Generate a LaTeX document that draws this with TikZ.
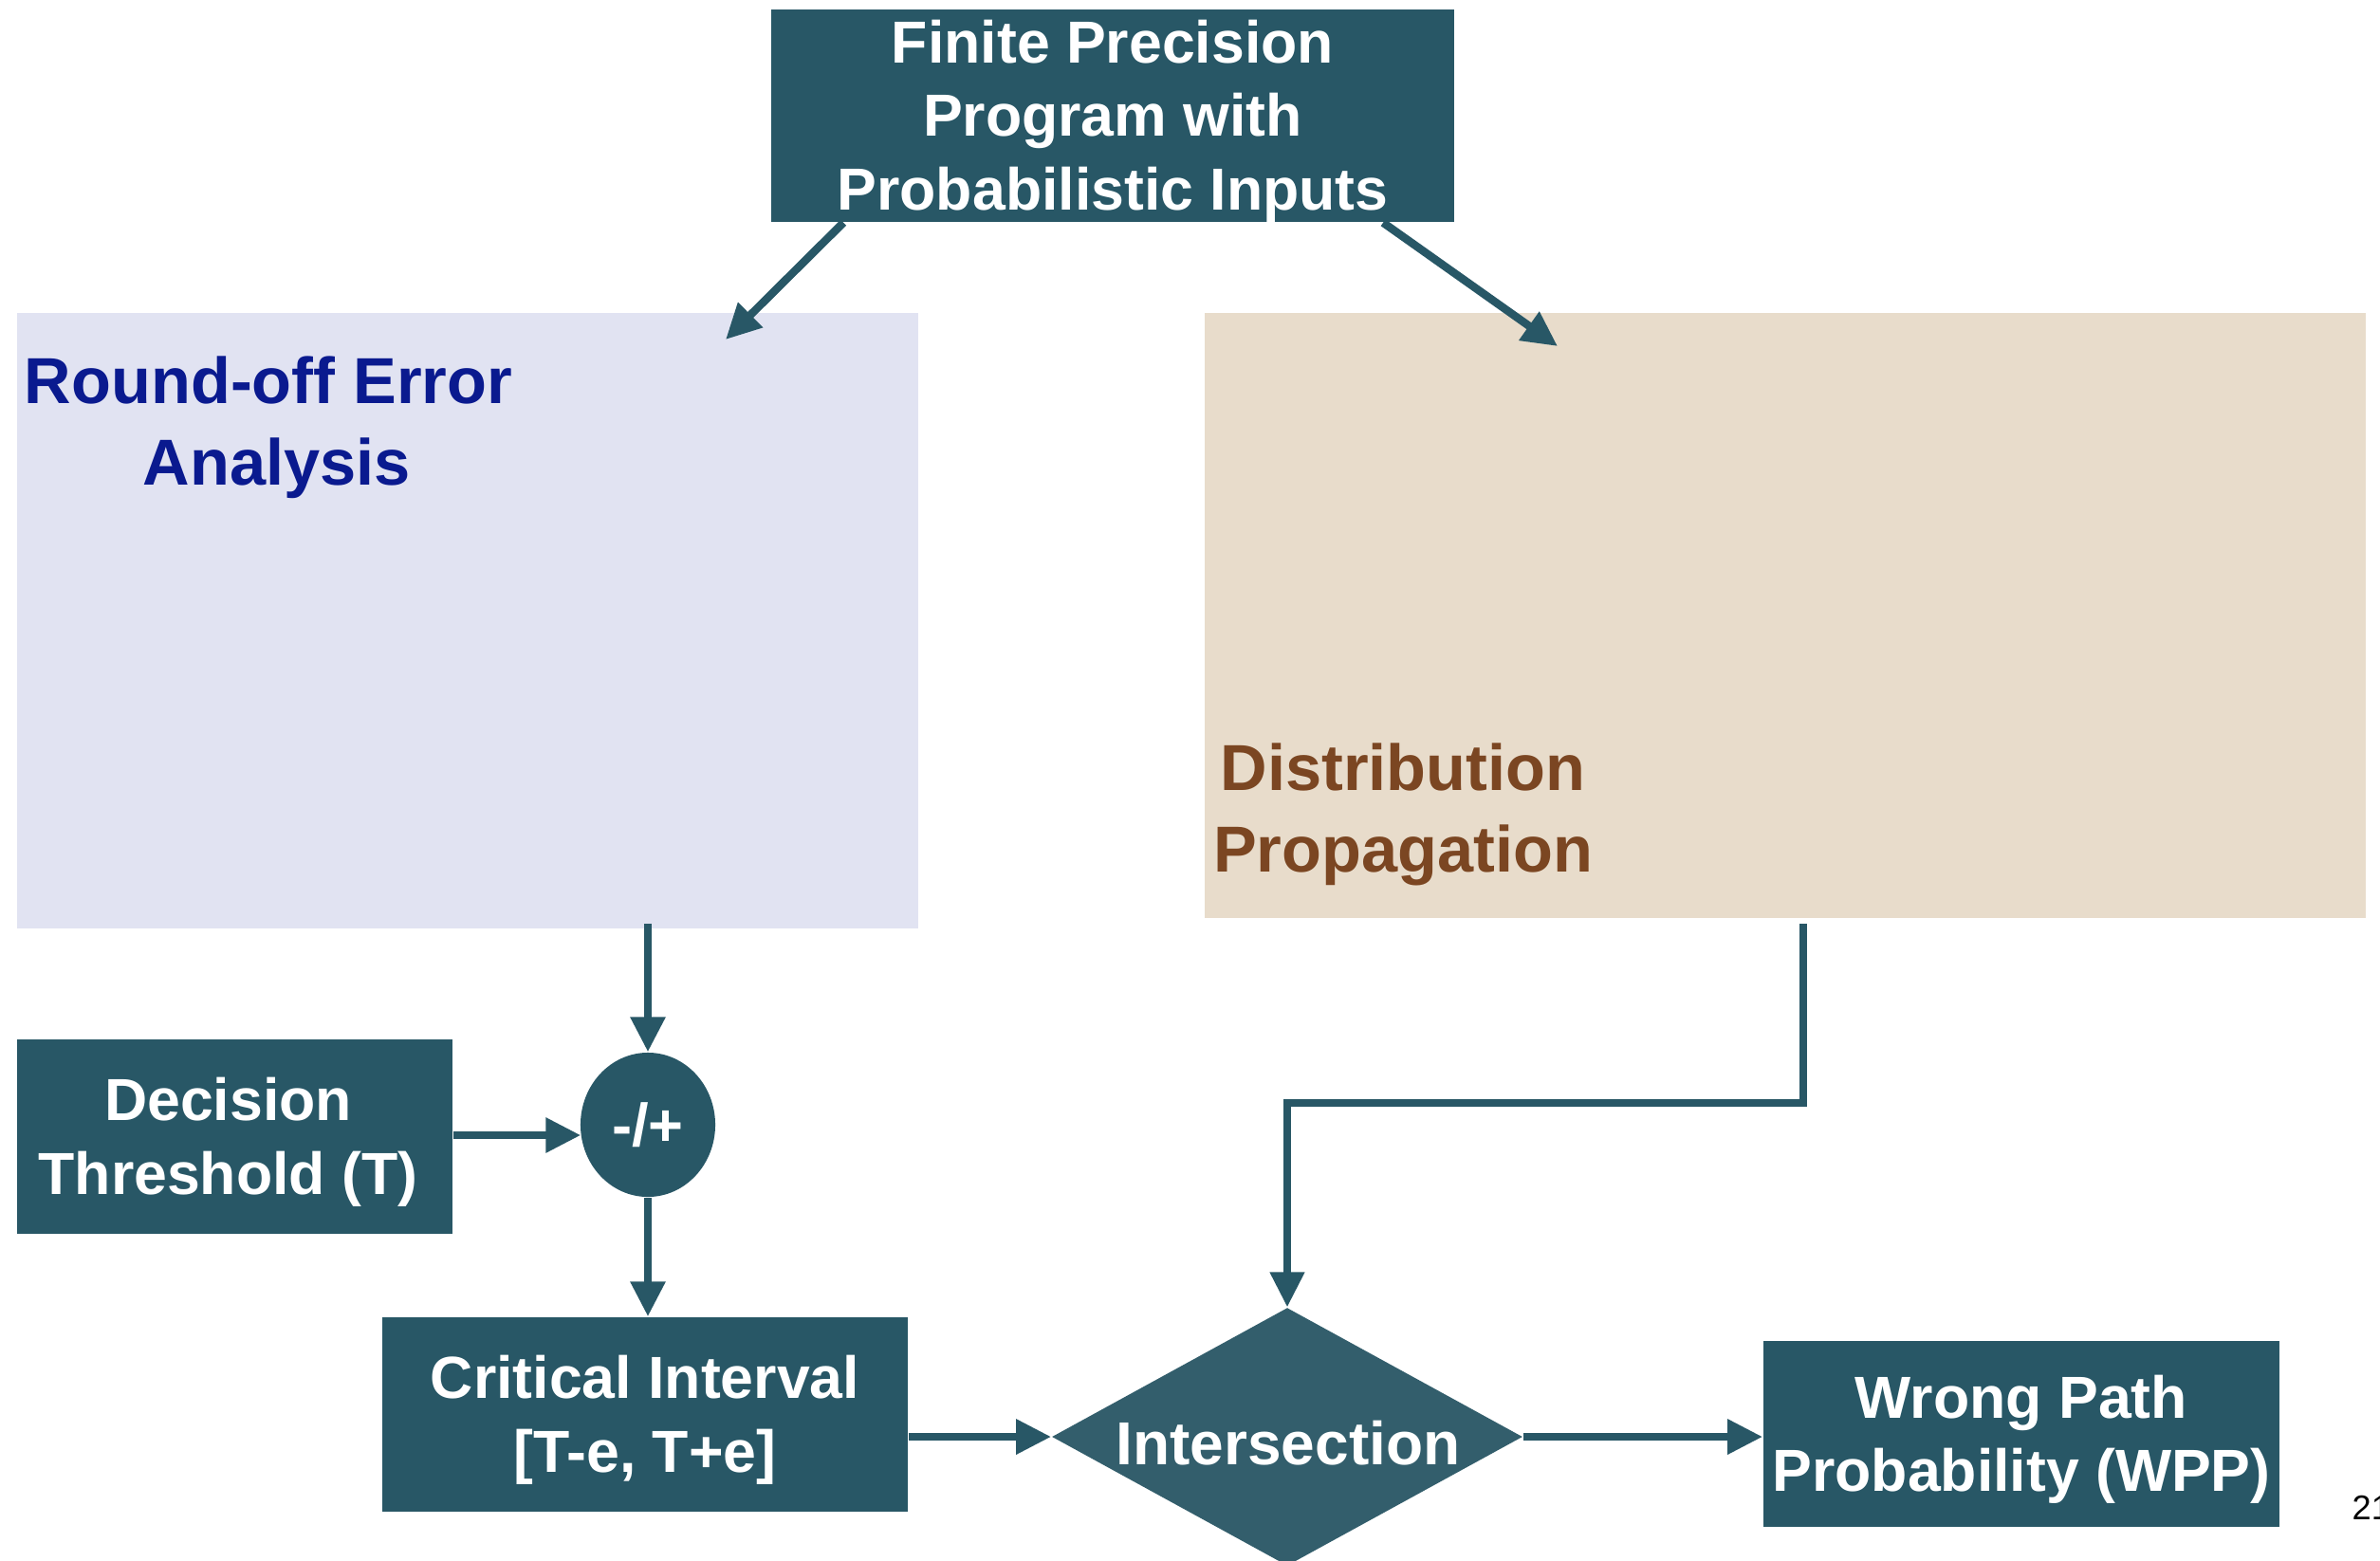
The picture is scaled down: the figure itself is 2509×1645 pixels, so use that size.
\documentclass[tikz,border=0pt]{standalone}
\usepackage{fontspec}
\setmainfont{Liberation Sans}
\usetikzlibrary{arrows.meta,shapes.geometric,calc}
\definecolor{boxteal}{RGB}{40,87,102}
\definecolor{diamteal}{RGB}{51,94,108}
\definecolor{lavregion}{RGB}{225,227,242}
\definecolor{beigeregion}{RGB}{232,220,203}
\definecolor{navytext}{RGB}{10,26,143}
\definecolor{browntext}{RGB}{123,70,34}
\tikzset{
  darkbox/.style={rectangle, fill=boxteal, inner sep=0pt},
  boxtext/.style={text=white, align=center, inner sep=0pt, yshift=-1.6pt,
    font=\bfseries\fontsize{17.8}{22}\selectfont},
  regionbox/.style={rectangle, inner sep=0pt},
  regiontitle/.style={align=center, inner sep=0pt, font=\bfseries\fontsize{19.5}{24.5}\selectfont},
  flow/.style={draw=boxteal, line width=2.4pt, -{Triangle[width=10pt,length=10.5pt]}},
}
\begin{document}
\begin{tikzpicture}[x=0.01cm, y=-0.01cm]
  \clip (0,0) rectangle (2509,1645);
  \fill[white] (0,0) rectangle (2509,1645);

  % analysis regions
  \node[regionbox, fill=lavregion, minimum width=9.50cm, minimum height=6.49cm] (lav) at (493,654.5) {};
  \node[regiontitle, text=navytext] (lavtitle) at (283,451) {Round-off Error\\\hspace*{5pt}Analysis};
  \node[regionbox, fill=beigeregion, minimum width=12.24cm, minimum height=6.38cm] (beige) at (1882,649) {};
  \node[regiontitle, text=browntext] (beigetitle) at (1479,859) {Distribution\\Propagation};

  % program and processing blocks
  \node[darkbox, minimum width=7.20cm, minimum height=2.24cm,
    label={[boxtext, name=progtext]center:{Finite Precision\\Program with\\Probabilistic Inputs}}]
    (prog) at (1173,122) {};
  \node[darkbox, minimum width=4.59cm, minimum height=2.05cm,
    label={[boxtext, name=dectext, xshift=-2pt]center:{Decision\\Threshold (T)}}]
    (dec) at (247.5,1198.5) {};
  \node[ellipse, fill=boxteal, text=white, minimum width=1.42cm, minimum height=1.52cm,
    inner sep=0pt, font=\bfseries\fontsize{18}{22}\selectfont] (circ) at (683,1186) {-/+};
  \node[darkbox, minimum width=5.54cm, minimum height=2.05cm,
    label={[boxtext, name=crittext]center:{Critical Interval\\{[}T-e, T+e{]}}}]
    (crit) at (680,1491.5) {};
  \node[diamond, fill=diamteal, aspect=1.82, inner sep=0pt,
    minimum width=4.96cm, minimum height=2.72cm] (diam) at (1357,1515) {};
  \node[text=white, inner sep=0pt, font=\bfseries\fontsize{18.2}{22}\selectfont] (diamlabel)
    at (1358,1522) {Intersection};
  \node[darkbox, minimum width=5.44cm, minimum height=1.96cm,
    label={[boxtext, name=wpptext]center:{Wrong Path\\Probability (WPP)}}]
    (wpp) at (2131,1512) {};

  % connector end points
  \coordinate (lavin) at (765,358);
  \coordinate (beigein) at (1642,365);
  \coordinate (bend) at (1901,1163);

  % connectors
  \draw[flow] ($(prog.south west)+(77,0)$) -- (lavin);
  \draw[flow] ($(prog.south west)+(646,0)$) -- (beigein);
  \draw[flow] ($(lav.south -| circ)+(0,-6)$) -- (circ.north);
  \draw[flow] (dec.east |- 0,1197) -- ($(circ.west)+(1,11)$);
  \draw[flow] (circ.south) -- (circ.south |- crit.north);
  \draw[flow] (crit.east |- diam.west) -- (diam.west);
  \draw[flow] (diam.east) -- (diam.east -| wpp.west);
  \draw[flow, line width=2.1pt] ($(bend |- beige.south)+(0,5)$) -- (bend) -| (diam.north);

  % page number
  \node[anchor=base west, inner sep=0pt, font=\fontsize{10.3}{12}\selectfont] (pagenum)
    at (2479,1602) {21};
\end{tikzpicture}
\end{document}
